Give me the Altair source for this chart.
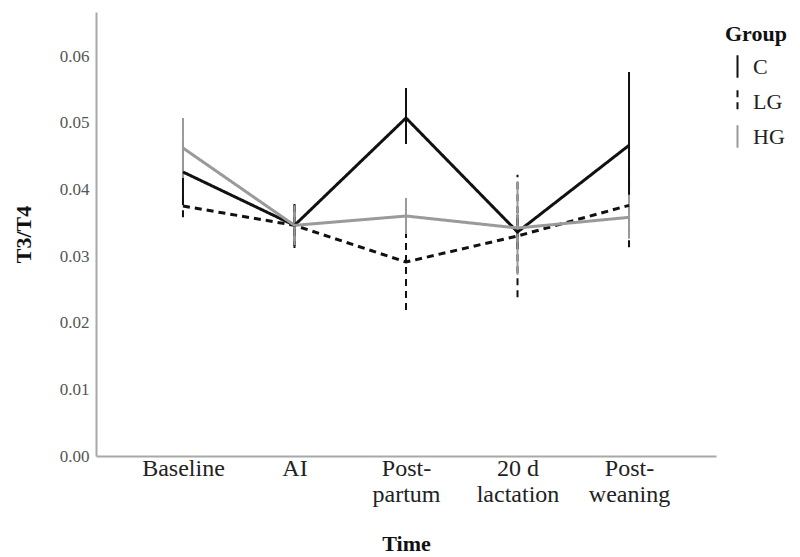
import altair as alt
import pandas as pd

times = ["Baseline", "AI", "Post-\npartum", "20 d\nlactation", "Post-\nweaning"]
groups = ["C", "LG", "HG"]

c_mean = [0.0426, 0.0346, 0.0507, 0.0336, 0.0466]
c_lo = [0.0380, 0.0315, 0.0468, 0.0310, 0.0392]
c_hi = [0.0472, 0.0378, 0.0552, 0.0362, 0.0576]

lg_mean = [0.0375, 0.0346, 0.0291, 0.0330, 0.0376]
lg_lo = [0.0358, 0.0312, 0.0219, 0.0238, 0.0313]
lg_hi = [0.0392, 0.0380, 0.0362, 0.0422, 0.0439]

hg_mean = [0.0462, 0.0346, 0.0360, 0.0342, 0.0358]
hg_lo = [0.0417, 0.0316, 0.0333, 0.0272, 0.0326]
hg_hi = [0.0507, 0.0376, 0.0387, 0.0412, 0.0392]

rows = []
for g, m, lo, hi in [("C", c_mean, c_lo, c_hi), ("LG", lg_mean, lg_lo, lg_hi), ("HG", hg_mean, hg_lo, hg_hi)]:
    for i, t in enumerate(times):
        rows.append({"Time": t, "Group": g, "mean": m[i], "lo": lo[i], "hi": hi[i]})
df = pd.DataFrame(rows)

serif = "Liberation Serif"

x = alt.X("Time:N", sort=times,
          scale=alt.Scale(type="point", padding=0.78),
          axis=alt.Axis(title="Time", labelAngle=0, labelAlign="center", labelBaseline="top",
                        labelExpr="split(datum.label, '\\n')",
                        labelFont=serif, labelFontSize=24, labelColor="#222",
                        labelLineHeight=26, labelPadding=0,
                        titleFont=serif, titleFontSize=22, titleFontWeight="bold",
                        titleColor="#111", titlePadding=27,
                        ticks=False, domainColor="#a8a8a8", domainWidth=2, grid=False))

yscale = alt.Scale(domain=[0, 0.0666], nice=False, zero=True)
y_axis = alt.Axis(title="T3/T4", values=[0, 0.01, 0.02, 0.03, 0.04, 0.05, 0.06], format=".2f",
                  labelFont=serif, labelFontSize=17, labelColor="#555", labelPadding=7,
                  titleFont=serif, titleFontSize=22, titleFontWeight="bold", titleColor="#111",
                  titlePadding=24, ticks=False, domainColor="#a8a8a8", domainWidth=2, grid=False)

legend = alt.Legend(title="Group", symbolType="M0,-1L0,1", symbolSize=500,
                    symbolStrokeWidth=2, titleFont=serif, titleFontSize=22,
                    titleFontWeight="bold", titleColor="#111", labelFont=serif,
                    labelFontSize=22, labelColor="#222", rowPadding=4, labelOffset=3,
                    orient="none", legendX=629, legendY=12, titlePadding=8)

color = alt.Color("Group:N", sort=groups,
                  scale=alt.Scale(domain=groups, range=["#111111", "#111111", "#9a9a9a"]),
                  legend=legend)
dash = alt.StrokeDash("Group:N", sort=groups,
                      scale=alt.Scale(domain=groups, range=[[1, 0], [7, 5], [1, 0]]),
                      legend=legend)

lines = alt.Chart(df).mark_line(strokeWidth=3).encode(
    x=x,
    y=alt.Y("mean:Q", scale=yscale, axis=y_axis),
    color=color,
    strokeDash=dash,
)

bars = alt.Chart(df).mark_rule(strokeWidth=2).encode(
    x=alt.X("Time:N", sort=times),
    y=alt.Y("lo:Q", scale=yscale),
    y2="hi:Q",
    color=alt.Color("Group:N", sort=groups),
    strokeDash=alt.StrokeDash("Group:N", sort=groups),
)

chart = alt.layer(bars, lines).properties(
    width=620, height=444,
    background="white",
    autosize=alt.AutoSizeParams(type="none"),
    padding={"left": 88, "top": 4, "right": 76, "bottom": 101},
).configure_view(stroke=None)

chart.save("out.html", embed_options={"renderer": "svg", "actions": False})
